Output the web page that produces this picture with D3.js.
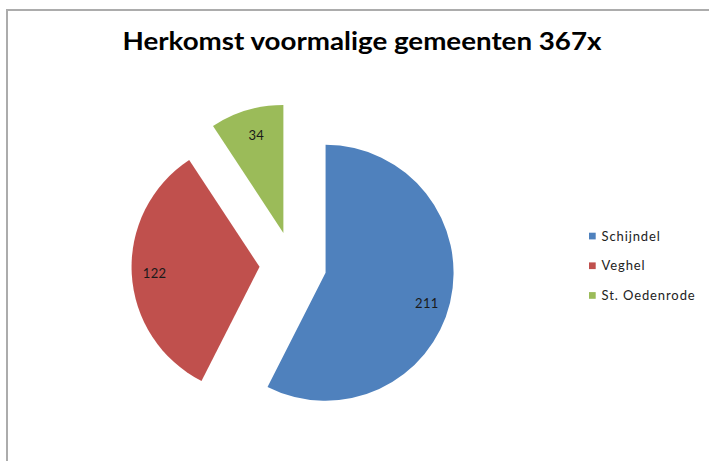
<!DOCTYPE html>
<html>
<head>
<meta charset="utf-8">
<script src="https://cdnjs.cloudflare.com/ajax/libs/d3/7.8.5/d3.min.js"></script>
<style>
	body { margin: 0; background: #fff; }
	svg { display: block; }
</style>
</head>
<body>
<div id="chart"></div>
<script>
"use strict"

// data
var categories = ["Schijndel", "Veghel", "St. Oedenrode"];
var values = [211, 122, 34];
var colors = ["#4f81bd", "#c0504d", "#9bbb59"];
var titleText = "Herkomst voormalige gemeenten 367x";

var width = 709, height = 461;
var cx = 293, cy = 265, radius = 128, explode = 33.5;

var svg = d3.select("#chart").append("svg")
	.attr("width", width)
	.attr("height", height)
	;

// frame
svg.append("path")
	.attr("d", "M7," + height + "V10H" + width)
	.attr("fill", "none")
	.attr("stroke", "#acacac")
	.attr("stroke-width", 2)
	;

svg.append("text")
	.attr("x", 362)
	.attr("y", 50)
	.attr("text-anchor", "middle")
	.style("font-family", "Lato, 'Open Sans', sans-serif")
	.style("font-weight", "bold")
	.style("font-size", "24px")
	.attr("textLength", 479)
	.attr("lengthAdjust", "spacingAndGlyphs")
	.attr("fill", "#000")
	.text(titleText)
	;

var pie = d3.pie().sort(null).value(function(d) { return d; });
var arcs = pie(values);
var arc = d3.arc().innerRadius(0).outerRadius(radius);

var gPie = svg.append("g").attr("transform", "translate(" + cx + "," + cy + ")");

function midAngle(d) {
	return (d.startAngle + d.endAngle) / 2;
}

var slices = gPie.selectAll("g.slice")
	.data(arcs)
	.enter().append("g")
	.attr("class", "slice")
	.attr("transform", function(d) {
		var a = midAngle(d);
		return "translate(" + (Math.sin(a) * explode) + "," + (-Math.cos(a) * explode) + ")";
	})
	;

slices.append("path")
	.attr("d", arc)
	.attr("fill", function(d, i) { return colors[i]; })
	;

// labels sit near the outer edge, nudged a little clockwise like excel does
slices.append("text")
	.attr("x", function(d) { return Math.sin(midAngle(d) + 0.03) * radius * 0.82; })
	.attr("y", function(d) { return -Math.cos(midAngle(d) + 0.03) * radius * 0.82 + 8; })
	.attr("text-anchor", "middle")
	.style("font-family", "Lato, 'Open Sans', sans-serif")
	.style("font-size", "13px")
	.style("letter-spacing", "0.3px")
	.attr("fill", "#1a1a1a")
	.text(function(d) { return d.value; })
	;

// legend
var legend = svg.append("g").attr("transform", "translate(589,236)");
var items = legend.selectAll("g")
	.data(categories)
	.enter().append("g")
	.attr("transform", function(d, i) { return "translate(0," + (i * 29.7) + ")"; })
	;
items.append("rect")
	.attr("x", 0)
	.attr("y", -3.3)
	.attr("width", 6.7)
	.attr("height", 6.7)
	.attr("fill", function(d, i) { return colors[i]; })
	;
items.append("text")
	.attr("x", 12.5)
	.attr("y", 4.7)
	.style("font-family", "Lato, 'Open Sans', sans-serif")
	.style("font-size", "13px")
	.style("letter-spacing", "0.9px")
	.attr("fill", "#222")
	.text(function(d) { return d; })
	;
</script>
</body>
</html>
